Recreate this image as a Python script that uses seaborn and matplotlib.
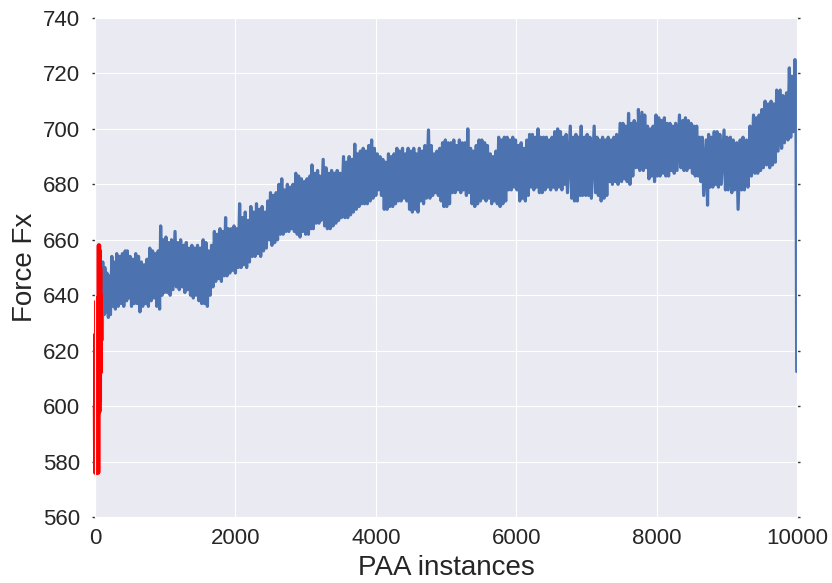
import numpy as np
import pandas as pd
import matplotlib
matplotlib.use("Agg")
import matplotlib.pyplot as plt
import seaborn as sns

# ---- data (envelope of the noisy signal) ----
blue_x = [85, 110, 140, 170, 200, 240, 270, 310, 350, 390, 430, 460, 500, 540, 580, 620, 660, 700, 740, 780,
          820, 860, 900, 935, 970, 1010, 1050, 1090, 1140, 1180, 1220, 1260, 1300, 1340, 1380, 1420, 1460, 1500,
          1540, 1580, 1620, 1660, 1700, 1740, 1780, 1820, 1860, 1900, 1940, 1980, 2020, 2060, 2100, 2140, 2180,
          2220, 2260, 2300, 2340, 2380, 2420, 2460, 2500, 2540, 2580, 2620, 2660, 2700, 2740, 2780, 2820, 2860,
          2900, 2940, 2980, 3020, 3060, 3090, 3130, 3170, 3200, 3250, 3290, 3330, 3370, 3410, 3450, 3490, 3540,
          3580, 3620, 3660, 3700, 3740, 3780, 3820, 3860, 3900, 3940, 3980, 4020, 4060, 4100, 4140, 4180, 4220,
          4260, 4300, 4340, 4380, 4420, 4460, 4500, 4540, 4580, 4620, 4660, 4700, 4750, 4790, 4830, 4870, 4910,
          4950, 4990, 5030, 5070, 5110, 5150, 5190, 5230, 5270, 5310, 5350, 5390, 5430, 5470, 5510, 5550, 5590,
          5630, 5670, 5710, 5750, 5790, 5830, 5870, 5910, 5950, 5990, 6030, 6070, 6110, 6150, 6190, 6230, 6270,
          6310, 6350, 6390, 6430, 6470, 6510, 6550, 6590, 6630, 6670, 6710, 6770, 6810, 6850, 6890, 6925, 6970,
          7010, 7050, 7110, 7150, 7190, 7230, 7270, 7310, 7350, 7390, 7430, 7480, 7520, 7560, 7600, 7640, 7680,
          7720, 7740, 7790, 7830, 7870, 7910, 7950, 7990, 8030, 8070, 8110, 8150, 8190, 8230, 8270, 8325, 8370,
          8410, 8450, 8490, 8530, 8570, 8610, 8650, 8705, 8740, 8780, 8820, 8860, 8900, 8960, 9000, 9050, 9090,
          9140, 9190, 9230, 9280, 9330, 9380, 9420, 9460, 9500, 9545, 9590, 9630, 9670, 9710, 9760, 9800, 9850,
          9890, 9925, 9950, 9970]
blue_lo = [624, 633, 634, 632, 633, 636, 635, 636, 637, 636, 638, 639, 636, 637, 637, 634, 636, 637, 636, 638,
           639, 636, 635, 640, 641, 641, 640, 642, 643, 642, 643, 641, 642, 640, 639, 640, 638, 637,
           637, 636, 640, 643, 645, 646, 645, 647, 647, 648, 649, 648, 650, 650, 651, 650, 652,
           654, 654, 655, 654, 656, 657, 660, 658, 659, 660, 662, 662, 663, 663, 664, 663, 662,
           661, 663, 662, 662, 664, 664, 666, 666, 667, 665, 664, 664, 665, 666, 667, 668, 668,
           668, 669, 670, 671, 672, 673, 673, 673, 674, 675, 676, 678, 676, 671, 671, 672, 672,
           673, 674, 674, 675, 674, 671, 670, 671, 670, 674, 673, 675, 675, 676, 677, 676, 674,
           672, 672, 673, 677, 677, 678, 677, 678, 676, 677, 673, 672, 673, 674, 675, 674, 675,
           673, 674, 673, 672, 673, 674, 678, 678, 679, 678, 674, 675, 674, 676, 679, 678, 679,
           677, 677, 678, 679, 678, 679, 678, 679, 678, 680, 677, 675, 674, 674, 676, 676, 676,
           676, 675, 677, 676, 674, 675, 676, 681, 680, 681, 680, 681, 682, 681, 680, 683, 686,
           686, 685, 685, 686, 682, 683, 681, 683, 683, 684, 683, 683, 685, 684, 685, 686, 685,
           685, 686, 684, 683, 683, 681, 676, 672.5, 679, 679, 680, 679, 680, 678, 678, 677, 678,
           671, 678, 678, 679, 683, 684, 684, 685, 686, 687, 686, 687, 688, 692, 693, 695, 696,
           697, 699, 700, 702]
blue_hi = [640, 652, 650, 648, 647, 654, 652, 655, 654, 655, 656, 656, 654, 653, 655, 654, 652, 651, 653, 657,
           656, 655, 656, 665, 660, 661, 659, 660, 663, 659, 660, 658, 659, 657, 658, 657, 658, 657,
           660, 659, 656, 658, 663, 662, 664, 663, 668, 664, 664, 665, 664, 673, 668, 670, 667,
           672, 670, 673, 671, 672, 670, 674, 677, 676, 677, 680, 682, 678, 680, 679, 680, 684,
           683, 682, 681, 682, 683, 687, 684, 685, 683, 689, 686, 684, 685, 684, 685, 684, 690,
           688, 690, 689, 694.5, 691, 692, 693, 692, 694, 696, 693, 691, 690, 689, 688, 691, 690,
           691, 693, 692, 693, 691, 693, 692, 693, 691, 693, 692, 694, 699.6, 694, 691, 692, 693,
           695, 696, 695, 695, 696, 694, 696, 695, 695, 700, 693, 692, 694, 696, 696, 695, 694,
           691, 690, 692, 697, 696, 697, 697, 696, 697, 696, 694, 695, 693, 696, 698, 698, 697,
           700, 697, 697, 697, 696, 697, 699, 700, 699, 697, 698, 701, 697, 698, 697, 701, 697,
           698, 697, 701, 697, 696, 697, 696, 697, 696, 697, 698, 702, 702, 701, 705.6, 702, 703,
           702, 707, 706, 705, 701, 700, 701, 705, 704, 703, 704, 702, 702, 701, 702, 705, 703,
           704, 703, 702, 701, 701, 697, 697, 696, 698, 697, 699, 699, 698, 699.6, 697, 697, 696,
           695, 696, 697, 696, 701, 705, 704, 705, 707, 710, 709, 710, 709, 714, 714, 712, 713,
           722, 719, 719, 725]
start_x, start_y = [70, 80], [613, 624]
end_x, end_y = [9985, 9995], [705, 612.5]

red_x = [0, 4, 8, 12, 16, 20, 24, 28, 32, 36, 40, 44, 48, 52, 56, 60, 64, 68, 72, 76, 80]
red_y = [600, 576, 626, 578, 622, 576, 638, 577, 639, 580, 636, 576, 630, 600, 658, 598, 656, 602, 650, 612, 640]

# ---- build the plotted series from the readings ----
xs = list(start_x)
ys = list(start_y)
for x, lo, hi in zip(blue_x, blue_lo, blue_hi):
    xs += [x, x + 20]
    ys += [hi, lo]
xs += end_x
ys += end_y
blue_df = pd.DataFrame({"PAA instances": xs, "Force Fx": ys})
red_df = pd.DataFrame({"PAA instances": red_x, "Force Fx": red_y})

sns.set_style("darkgrid")
plt.rcParams["font.family"] = ["Liberation Sans", "DejaVu Sans"]

fig = plt.figure(figsize=(8.32, 5.83), dpi=100)
ax = fig.add_axes([0.1142, 0.1132, 0.958 - 0.1142, 0.9691 - 0.1132])

sns.lineplot(data=blue_df, x="PAA instances", y="Force Fx", ax=ax, color="#4C72B0",
             linewidth=2.3, estimator=None, sort=False)
sns.lineplot(data=red_df, x="PAA instances", y="Force Fx", ax=ax, color="red",
             linewidth=3.2, estimator=None, sort=False, clip_on=False)

ax.set_xlim(0, 10000)
ax.set_ylim(560, 740)
ax.set_xticks(range(0, 10001, 2000))
ax.set_yticks(range(560, 741, 20))
ax.tick_params(axis="both", labelsize=16, colors="#262626")
ax.tick_params(axis="y", left=True, right=True, length=2, width=1, color="#333333",
               direction="out", pad=9)
ax.tick_params(axis="x", bottom=False, length=0, pad=8)
ax.set_xlabel("PAA instances", fontsize=20, color="#262626", labelpad=4)
ax.set_ylabel("Force Fx", fontsize=20, color="#262626", labelpad=3)

fig.savefig("out.png", dpi=100)
